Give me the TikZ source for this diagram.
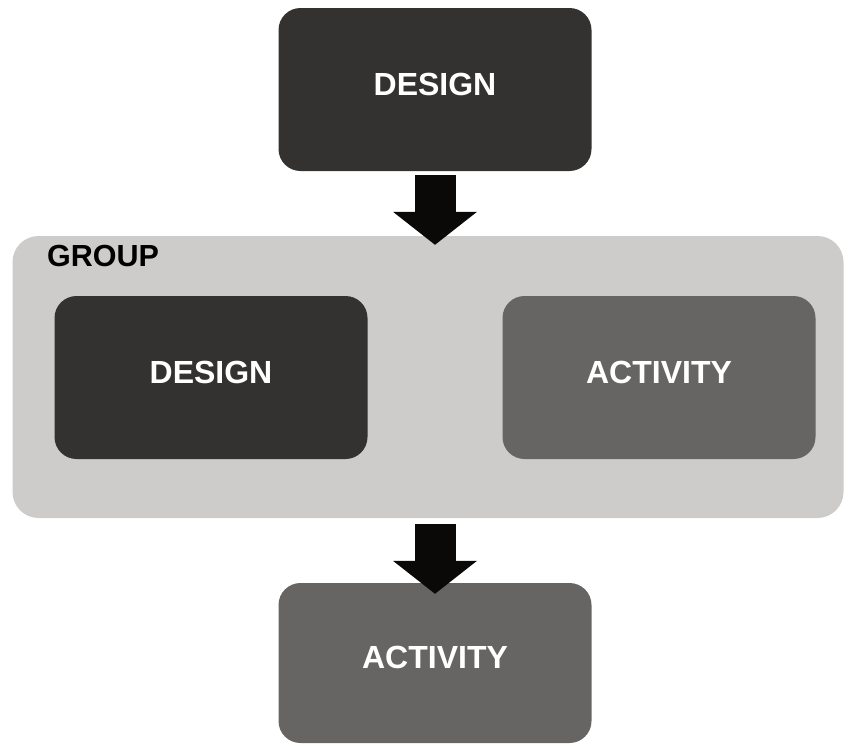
\documentclass[tikz,border=0pt]{standalone}
\usepackage{fontspec}
\setmainfont{Liberation Sans}
\usetikzlibrary{arrows.meta}
\definecolor{darkbox}{HTML}{333231}
\definecolor{midbox}{HTML}{666564}
\definecolor{groupbg}{HTML}{CDCCCA}
\definecolor{arrowblk}{HTML}{0A0908}

\begin{document}
\begin{tikzpicture}[x=1pt,y=-1pt,
  box/.style={rectangle,rounded corners=22pt,minimum width=313pt,minimum height=163pt,
              inner sep=0pt,text=white,text depth=11pt,
              font=\bfseries\fontsize{32}{36}\selectfont},
  designbox/.style={box,fill=darkbox},
  activitybox/.style={box,fill=midbox},
  grp/.style={rectangle,rounded corners=26pt,fill=groupbg,minimum width=831pt,
              minimum height=282pt,inner sep=0pt},
  flow/.style={line width=41pt,draw=arrowblk,
               -{Triangle[width=84pt,length=33pt,line width=0pt]}}]
\useasboundingbox (0,0) rectangle (845,745);

\node[designbox] (design) at (435,89.5) {DESIGN};

% grey group holding the two inner boxes
\node[grp] (group) at (428,377) {};
\node[font=\bfseries\fontsize{30.5}{34}\selectfont,inner sep=0pt,anchor=base west]
  (grouplabel) at (47,266) {GROUP};
\node[designbox] (gdesign) at (211,377.5) {DESIGN};
\node[activitybox] (gactivity) at (659,377.5) {ACTIVITY};

\node[activitybox,minimum height=160pt] (activity) at (435,663) {ACTIVITY};

\draw[flow] ([yshift=-4pt]design.south) -- ([yshift=-9pt]design.south |- group.north);
\draw[flow] ([yshift=-6pt]design.south |- group.south) -- ([yshift=-11pt]activity.north);
\end{tikzpicture}
\end{document}
